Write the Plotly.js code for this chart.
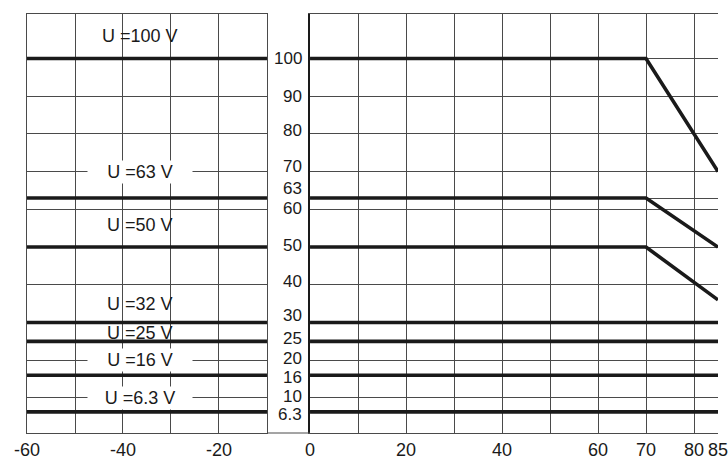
<!DOCTYPE html>
<html>
<head>
<meta charset="utf-8">
<script src="https://cdn.plot.ly/plotly-3.0.1.min.js"></script>
<style>html,body{margin:0;padding:0;background:#fff;}#chart{width:728px;height:462px;}</style>
</head>
<body>
<div id="chart"></div>
<script>
// ---- data ----
const leftTemps = [-60, -10];
const rightTemps = [0, 70, 85];
const ratedVoltage = [100, 63, 50, 32, 25, 16, 6.3];
const levelTo70 = [100, 63, 50, 30, 25, 16, 6.3];
const levelAt85 = [70, 50, 36, 30, 25, 16, 6.3];
const yTickVals = [100, 90, 80, 70, 63, 60, 50, 40, 30, 25, 20, 16, 10, 6.3];
const yTickText = ['100', '90', '80', '70', '63', '60', '50', '40', '30', '25', '20', '16', '10', '6.3'];
const xLeftTicks = [-60, -40, -20];
const xRightTicks = [0, 20, 40, 60, 70, 80, 85];

// ---- styling / placement (not data) ----
const FONT = "'Liberation Sans', Arial, sans-serif";
const FS = 18;
const INK = '#1a1a1a';
const GRID = '#4a4a4a';
const labelY = [106, 70, 55.8, 35, 27.2, 20, 10];
const labelOnGrid = [false, true, false, false, false, true, true];
const tickShift = {80: 3, 70: 5, 63: 10, 60: 1, 50: 2, 40: 3, 30: 7, 25: 3, 20: 1.5, 16: -2.5, 10: 1.5, 6.3: -2.5};

const traces = [];
ratedVoltage.forEach((v, i) => {
  traces.push({
    x: leftTemps, y: [levelTo70[i], levelTo70[i]],
    xaxis: 'x', yaxis: 'y', mode: 'lines', hoverinfo: 'skip',
    line: {color: INK, width: 3.6}, showlegend: false
  });
  traces.push({
    x: rightTemps, y: [levelTo70[i], levelTo70[i], levelAt85[i]],
    xaxis: 'x2', yaxis: 'y2', mode: 'lines', hoverinfo: 'skip',
    line: {color: INK, width: 3.6}, showlegend: false
  });
});

const annotations = [];
ratedVoltage.forEach((v, i) => {
  const a = {
    x: -36.5, xref: 'x', y: labelY[i], yref: 'y',
    text: 'U =' + v + ' V', showarrow: false, xanchor: 'center', yanchor: 'middle',
    font: {family: FONT, size: FS, color: INK}
  };
  if (labelOnGrid[i]) { a.bgcolor = '#ffffff'; a.width = 102; }
  annotations.push(a);
});
yTickVals.forEach((v, i) => {
  annotations.push({
    x: 0, xref: 'x2', y: v, yref: 'y2', xanchor: 'right', yanchor: 'middle',
    xshift: -7, yshift: tickShift[v] || 0, borderpad: 0,
    text: yTickText[i], showarrow: false,
    font: {family: FONT, size: 17, color: INK}
  });
});

const yCommon = {
  range: [0.7, 111.8], tickvals: yTickVals, showticklabels: false, ticks: '',
  showgrid: true, gridcolor: GRID, gridwidth: 1, zeroline: false, fixedrange: true
};

const layout = {
  width: 728, height: 462,
  margin: {l: 27, r: 10, t: 14, b: 29},
  paper_bgcolor: '#ffffff', plot_bgcolor: '#ffffff',
  font: {family: FONT, size: FS, color: INK},
  showlegend: false,
  xaxis: {
    domain: [0, 0.3473], range: [-60, -10], anchor: 'y',
    tickvals: xLeftTicks, ticktext: xLeftTicks.map(String), ticks: '',
    showgrid: false, minor: {tick0: 0, dtick: 10, showgrid: true, gridcolor: GRID, gridwidth: 1},
    showline: true, mirror: true, linecolor: GRID, linewidth: 1, zeroline: false,
    ticklabeloverflow: 'allow',
    tickfont: {family: FONT, size: FS, color: INK}
  },
  xaxis2: {
    domain: [0.4096, 1], range: [0, 85], anchor: 'y2',
    tickvals: xRightTicks, ticktext: xRightTicks.map(String), ticks: '',
    showgrid: true, gridcolor: GRID, gridwidth: 1,
    minor: {tick0: 0, dtick: 10, showgrid: true, gridcolor: GRID, gridwidth: 1},
    showline: true, mirror: true, linecolor: GRID, linewidth: 1, zeroline: false,
    ticklabeloverflow: 'allow',
    tickfont: {family: FONT, size: FS, color: INK}
  },
  yaxis: Object.assign({}, yCommon, {anchor: 'x', showline: true, mirror: true, linecolor: GRID, linewidth: 1}),
  yaxis2: Object.assign({}, yCommon, {anchor: 'x2', matches: 'y', showline: true, mirror: false, linecolor: INK, linewidth: 2.5}),
  shapes: [{
    type: 'line', xref: 'paper', yref: 'paper', x0: 0.3473, x1: 0.4096, y0: 0, y1: 0,
    line: {color: GRID, width: 1}
  }],
  annotations: annotations
};

Plotly.newPlot('chart', traces, layout, {staticPlot: true, displayModeBar: false});
</script>
</body>
</html>
